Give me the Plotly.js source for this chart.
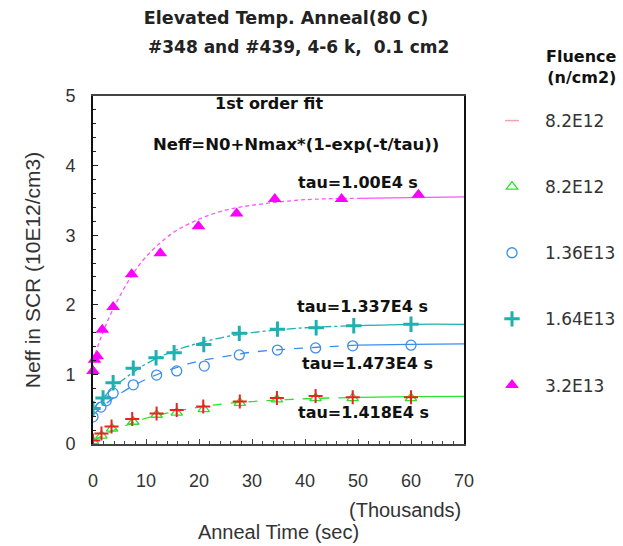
<!DOCTYPE html>
<html>
<head>
<meta charset="utf-8">
<script src="https://cdn.plot.ly/plotly-3.0.1.min.js"></script>
<style>html,body{margin:0;padding:0;background:#fff;}#chart{width:623px;height:546px;}</style>
</head>
<body>
<div id="chart"></div>
<script>
// Anneal time (thousands of seconds) and Neff (10E12/cm3)
const tRed = [0, 1.6, 3.5, 7.4, 12, 15.8, 20.8, 27.7, 34.7, 42, 49, 60];
const nRed = [0.05, 0.15, 0.25, 0.36, 0.44, 0.49, 0.54, 0.61, 0.66, 0.69, 0.67, 0.67];

const tGreen = [0, 1.6, 3.6, 7.6, 12, 15.8, 20.9, 27.7, 34.7, 42, 49, 60];
const nGreen = [0.04, 0.12, 0.22, 0.32, 0.42, 0.45, 0.50, 0.59, 0.64, 0.66, 0.66, 0.66];

const tBlue = [0, 1.5, 2.5, 3.8, 7.6, 12, 15.8, 21, 27.6, 34.8, 42, 49, 60];
const nBlue = [0.39, 0.53, 0.62, 0.73, 0.85, 0.99, 1.05, 1.12, 1.28, 1.35, 1.38, 1.41, 1.42];

const tCyan = [0, 1.9, 3.8, 7.6, 11.9, 15.3, 20.9, 27.6, 34.8, 42.1, 49.2, 60];
const nCyan = [0.51, 0.66, 0.88, 1.09, 1.24, 1.31, 1.43, 1.59, 1.65, 1.67, 1.70, 1.72];

const tMag = [0, 0.3, 0.8, 1.75, 3.8, 7.3, 12.7, 19.9, 27.1, 34.3, 46.9, 61.4];
const nMag = [1.05, 1.21, 1.26, 1.64, 1.97, 2.44, 2.74, 3.13, 3.31, 3.52, 3.52, 3.58];

// fitted curves
const tFit = [0, 2, 4, 7, 10, 15, 20, 25, 30, 40, 50, 60, 70];
const fitMag = [1.20, 1.63, 1.97, 2.38, 2.69, 3.03, 3.23, 3.36, 3.43, 3.51, 3.53, 3.54, 3.55];
const fitCyan = [0.50, 0.67, 0.82, 1.00, 1.15, 1.33, 1.45, 1.54, 1.60, 1.67, 1.70, 1.72, 1.72];
const fitBlue = [0.42, 0.55, 0.67, 0.81, 0.93, 1.08, 1.19, 1.26, 1.32, 1.38, 1.42, 1.43, 1.44];
const fitGreen = [0.04, 0.13, 0.20, 0.29, 0.37, 0.46, 0.53, 0.58, 0.61, 0.65, 0.67, 0.68, 0.685];

const seriesNames = ['8.2E12', '8.2E12', '1.36E13', '1.64E13', '3.2E13'];
const tauLabels = ['tau=1.00E4 s', 'tau=1.337E4 s', 'tau=1.473E4 s', 'tau=1.418E4 s'];
const tauX = [50, 50.8, 51.7, 51];
const tauY = [3.76, 1.98, 1.16, 0.45];
const xTickVals = [0, 10, 20, 30, 40, 50, 60, 70];
const yTickVals = [0, 1, 2, 3, 4, 5];

const SPLIT = 10; // index of t=50 in tFit: dashed before, solid after
function fitTraces(vals, color, dash) {
  return [
    {x: tFit.slice(0, SPLIT + 1), y: vals.slice(0, SPLIT + 1), mode: 'lines', line: {color: color, width: 1.3, dash: dash, shape: 'spline'}, showlegend: false, hoverinfo: 'skip'},
    {x: tFit.slice(SPLIT), y: vals.slice(SPLIT), mode: 'lines', line: {color: color, width: 1.3, shape: 'spline'}, showlegend: false, hoverinfo: 'skip'}
  ];
}

const cRed = '#ee2020', cGreen = '#2fe02f', cBlue = '#3a8ef0', cCyan = '#1fb0b0', cMag = '#ff00ff';

const data = [].concat(
  fitTraces(fitGreen, cGreen, 'dash'),
  fitTraces(fitBlue, cBlue, 'dash'),
  fitTraces(fitCyan, cCyan, 'dashdot'),
  fitTraces(fitMag, '#ff55ff', '4px,3px'),
  [
    {x: tGreen, y: nGreen, mode: 'markers', name: seriesNames[1], legendgroup: 'g2', legendrank: 2,
     marker: {symbol: 'triangle-up-open', size: 10, color: cGreen, line: {width: 1.3}}},
    {x: tRed, y: nRed, mode: 'markers', name: seriesNames[0], legendgroup: 'g1', showlegend: false,
     marker: {symbol: 'cross-thin-open', size: 10, color: cRed, line: {width: 2, color: cRed}}},
    {x: [null], y: [null], mode: 'markers', name: seriesNames[0], legendgroup: 'g1', legendrank: 1,
     marker: {symbol: 'line-ew-open', size: 10, color: '#f6a0b4', line: {width: 1.5, color: '#f6a0b4'}}},
    {x: tBlue, y: nBlue, mode: 'markers', name: seriesNames[2], legendgroup: 'g3', legendrank: 3,
     marker: {symbol: 'circle-open', size: 10, color: cBlue, line: {width: 1.3}}},
    {x: tCyan, y: nCyan, mode: 'markers', name: seriesNames[3], legendgroup: 'g4', legendrank: 4,
     marker: {symbol: 'cross-thin-open', size: 11, color: cCyan, line: {width: 3, color: cCyan}}},
    {x: tMag, y: nMag, mode: 'markers', name: seriesNames[4], legendgroup: 'g5', legendrank: 5,
     marker: {symbol: 'triangle-up', size: 12, color: cMag}, cliponaxis: false}
  ]
);

const boldFont = {family: 'DejaVu Sans, sans-serif', size: 16, color: '#111'};
const annotations = [
  {x: (298 - 93) / 371, y: (444 - 47) / 348, xref: 'paper', yref: 'paper', xanchor: 'center', yanchor: 'middle',
   text: '<b>#348 and #439, 4-6 k,  0.1 cm2</b>', showarrow: false,
   font: {family: 'DejaVu Sans, sans-serif', size: 17, color: '#222'}},
  {x: (269 - 93) / 371, y: (444 - 104) / 348, xref: 'paper', yref: 'paper', xanchor: 'center', yanchor: 'middle',
   text: '<b>1st order fit</b>', showarrow: false, font: boldFont},
  {x: (296 - 93) / 371, y: (444 - 144) / 348, xref: 'paper', yref: 'paper', xanchor: 'center', yanchor: 'middle',
   text: '<b>Neff=N0+Nmax*(1-exp(-t/tau))</b>', showarrow: false,
   font: {family: 'DejaVu Sans, sans-serif', size: 16.5, color: '#111'}},
  {x: (405 - 93) / 371, y: (444 - 510) / 348, xref: 'paper', yref: 'paper', xanchor: 'center', yanchor: 'middle',
   text: '(Thousands)', showarrow: false,
   font: {family: 'Liberation Sans, Arial, sans-serif', size: 20, color: '#333'}},
  {x: (619 - 93) / 371, y: (444 - 67) / 348, xref: 'paper', yref: 'paper', xanchor: 'right', yanchor: 'middle',
   align: 'right', text: '<b>Fluence</b><br><b>(n/cm2)</b>', showarrow: false,
   font: {family: 'DejaVu Sans, sans-serif', size: 16, color: '#111'}}
];
for (let i = 0; i < tauLabels.length; i++) {
  annotations.push({x: tauX[i], y: tauY[i], xanchor: 'center', yanchor: 'middle',
    text: '<b>' + tauLabels[i] + '</b>', showarrow: false, font: boldFont});
}

const layout = {
  width: 623, height: 546,
  margin: {l: 93, r: 159, t: 96, b: 102, autoexpand: false},
  paper_bgcolor: '#fff', plot_bgcolor: '#fff',
  font: {family: 'Liberation Sans, Arial, sans-serif', color: '#333'},
  title: {
    text: '<b>Elevated Temp. Anneal(80 C)</b>',
    x: (286 - 93) / 371, xref: 'paper', xanchor: 'center', y: 1 - 18 / 546, yref: 'container', yanchor: 'middle',
    font: {family: 'DejaVu Sans, sans-serif', size: 17.5, color: '#222'}
  },
  xaxis: {
    range: [0, 70], tickvals: xTickVals, ticks: 'inside', ticklen: 5, tickcolor: '#444',
    showline: true, linecolor: '#444', linewidth: 2, mirror: true, showgrid: false, zeroline: false,
    tickfont: {size: 18, color: '#333'}, ticklabelstandoff: 19,
    minor: {dtick: 2, ticks: 'inside', ticklen: 3, tickcolor: '#444'},
    title: {text: 'Anneal Time (sec)', standoff: 35, font: {size: 20, color: '#333'}}
  },
  yaxis: {
    range: [0, 5], tickvals: yTickVals, ticks: 'inside', ticklen: 5, tickcolor: '#222',
    showline: true, linecolor: '#111', linewidth: 2, mirror: true, showgrid: false, zeroline: false,
    tickfont: {size: 18, color: '#333'}, ticklabelstandoff: 12,
    minor: {dtick: 0.2, ticks: 'inside', ticklen: 3, tickcolor: '#222'},
    title: {text: 'Neff in SCR (10E12/cm3)', standoff: 19, font: {size: 21, color: '#333'}}
  },
  showlegend: true,
  legend: {
    x: (479 - 93) / 371, y: (444 - 103) / 348, xanchor: 'left', yanchor: 'top',
    bgcolor: 'rgba(0,0,0,0)', tracegroupgap: 41, traceorder: 'grouped', itemwidth: 56,
    maxheight: 520,
    font: {family: 'DejaVu Sans, sans-serif', size: 17, color: '#333'}
  },
  annotations: annotations
};

Plotly.newPlot('chart', data, layout, {displayModeBar: false, staticPlot: true});
</script>
</body>
</html>
